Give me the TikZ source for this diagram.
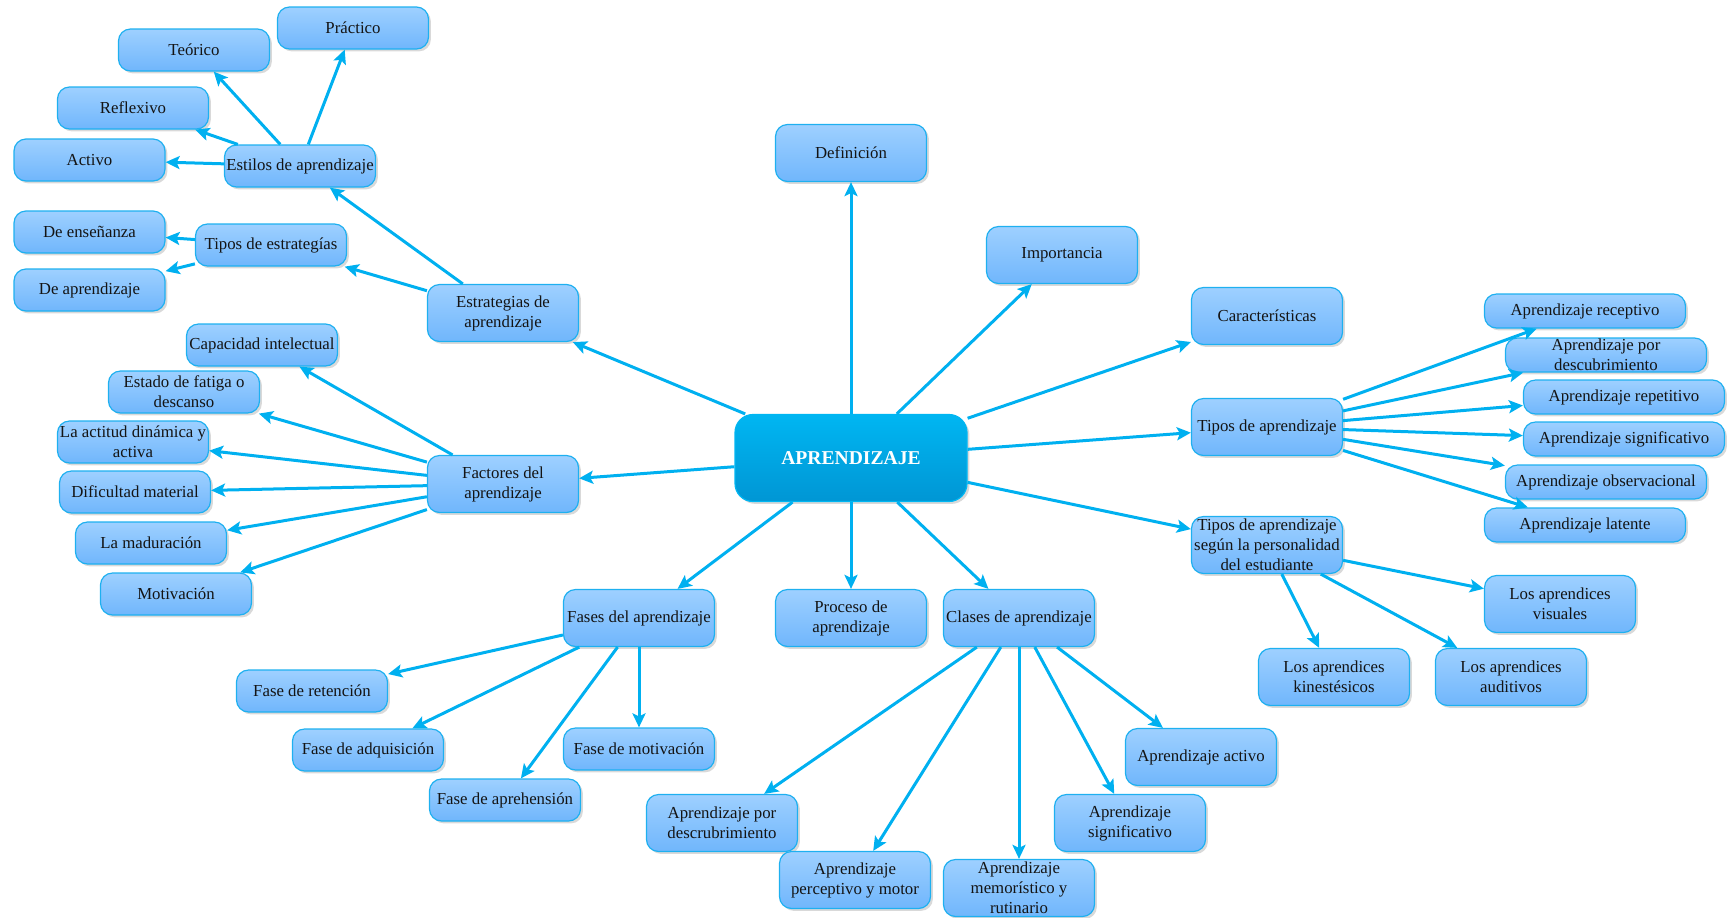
\documentclass[tikz,border=0pt]{standalone}
\usepackage{fontspec}
\setmainfont{Liberation Serif}
\usetikzlibrary{arrows.meta,shadows}
\definecolor{boxtop}{RGB}{158,208,255}
\definecolor{boxbot}{RGB}{112,182,252}
\definecolor{boxline}{RGB}{30,176,240}
\definecolor{arrc}{RGB}{0,176,240}
\definecolor{ctop}{RGB}{0,182,242}
\definecolor{cbot}{RGB}{0,150,212}
\definecolor{txt}{RGB}{20,20,20}
\newcommand{\boxfont}{\fontsize{8.4pt}{10pt}\selectfont}
\newcommand{\cenfont}{\fontsize{9.8pt}{11pt}\selectfont\bfseries}
\begin{document}
\begin{tikzpicture}[x=0.5pt,y=-0.5pt,
 nbox/.style={draw=boxline, line width=0.6pt, rounded corners=6pt, top color=boxtop, bottom color=boxbot, minimum width=75.5pt, minimum height=21pt, inner sep=0pt, align=center, font=\boxfont, text=txt, drop shadow={shadow xshift=1.2pt, shadow yshift=-1.2pt, fill=black, opacity=0.15}},
 tbox/.style={nbox, minimum height=28.5pt},
 wbox/.style={nbox, minimum width=100.5pt, minimum height=17pt},
 cbox/.style={draw=ctop, line width=0.6pt, rounded corners=9pt, top color=ctop, bottom color=cbot, minimum width=116pt, minimum height=43.5pt, inner sep=0pt, font=\cenfont, text=white, drop shadow={shadow xshift=1.2pt, shadow yshift=-1.2pt, fill=black, opacity=0.15}},
 conn/.style={draw=arrc, line width=1.5pt, -{Stealth[length=7pt,width=6.5pt,inset=1.5pt]}}
 ]
\useasboundingbox (0,0) rectangle (1731,917);
% central
\node[cbox] (c) at (851,458) {APRENDIZAJE};
% first level
\node[tbox] (def) at (851,153) {Definición};
\node[tbox] (imp) at (1062,255) {Importancia};
\node[tbox] (car) at (1267,316) {Características};
\node[tbox] (tap) at (1267,427) {Tipos de aprendizaje};
\node[tbox] (tsp) at (1267,545) {Tipos de aprendizaje\\según la personalidad\\del estudiante};
\node[tbox] (cla) at (1019,618) {Clases de aprendizaje};
\node[tbox] (pro) at (851,618) {Proceso de\\aprendizaje};
\node[tbox] (fas) at (639,618) {Fases del aprendizaje};
\node[tbox] (fac) at (503,484) {Factores del\\aprendizaje};
\node[tbox] (estr) at (503,313) {Estrategias de\\aprendizaje};
% tipos de aprendizaje
\node[wbox] (rec) at (1585,311) {Aprendizaje receptivo};
\node[wbox] (des) at (1606,355) {Aprendizaje por\\descubrimiento};
\node[wbox] (rep) at (1624,397) {Aprendizaje repetitivo};
\node[wbox] (sig) at (1624,439) {Aprendizaje significativo};
\node[wbox] (obs) at (1606,482) {Aprendizaje observacional};
\node[wbox] (lat) at (1585,525) {Aprendizaje latente};
% personalidad
\node[tbox] (vis) at (1560,604) {Los aprendices\\visuales};
\node[tbox] (kin) at (1334,677) {Los aprendices\\kinestésicos};
\node[tbox] (aud) at (1511,677) {Los aprendices\\auditivos};
% clases
\node[tbox] (cdes) at (722,823) {Aprendizaje por\\descrubrimiento};
\node[tbox] (cper) at (855,880) {Aprendizaje\\perceptivo y motor};
\node[tbox] (cmem) at (1019,888) {Aprendizaje\\memorístico y\\rutinario};
\node[tbox] (csig) at (1130,823) {Aprendizaje\\significativo};
\node[tbox] (cact) at (1201,757) {Aprendizaje activo};
% fases
\node[nbox] (fret) at (312,691) {Fase de retención};
\node[nbox] (fadq) at (368,750) {Fase de adquisición};
\node[nbox] (fmot) at (639,749) {Fase de motivación};
\node[nbox] (fapr) at (505,800) {Fase de aprehensión};
% factores
\node[nbox] (cap) at (262,345) {Capacidad intelectual};
\node[nbox] (est) at (184,392) {Estado de fatiga o\\descanso};
\node[nbox] (act) at (133,442) {La actitud dinámica y\\activa};
\node[nbox] (dif) at (135,492) {Dificultad material};
\node[nbox] (mad) at (151,543) {La maduración};
\node[nbox] (mot) at (176,594) {Motivación};
% estrategias
\node[nbox] (esti) at (300,166) {Estilos de aprendizaje};
\node[nbox] (tes) at (271,245) {Tipos de estrategías};
\node[nbox] (pra) at (353,28) {Práctico};
\node[nbox] (teo) at (194,50) {Teórico};
\node[nbox] (ref) at (133,108) {Reflexivo};
\node[nbox] (acv) at (89.5,160) {Activo};
\node[nbox] (ens) at (89.5,232) {De enseñanza};
\node[nbox] (dap) at (89.5,290) {De aprendizaje};
% connectors
\foreach \t in {def,imp,car,tap,tsp,cla,pro,fas,fac,estr} \draw[conn] (c) -- (\t);
\foreach \t in {rec,des,rep,sig,obs,lat} \draw[conn] (tap) -- (\t);
\foreach \t in {vis,kin,aud} \draw[conn] (tsp) -- (\t);
\foreach \t in {cdes,cper,cmem,csig,cact} \draw[conn] (cla) -- (\t);
\foreach \t in {fret,fadq,fmot,fapr} \draw[conn] (fas) -- (\t);
\foreach \t in {cap,est,act,dif,mad,mot} \draw[conn] (fac) -- (\t);
\foreach \t in {esti,tes} \draw[conn] (estr) -- (\t);
\foreach \t in {pra,teo,ref,acv} \draw[conn] (esti) -- (\t);
\foreach \t in {ens,dap} \draw[conn] (tes) -- (\t);
\end{tikzpicture}
\end{document}
